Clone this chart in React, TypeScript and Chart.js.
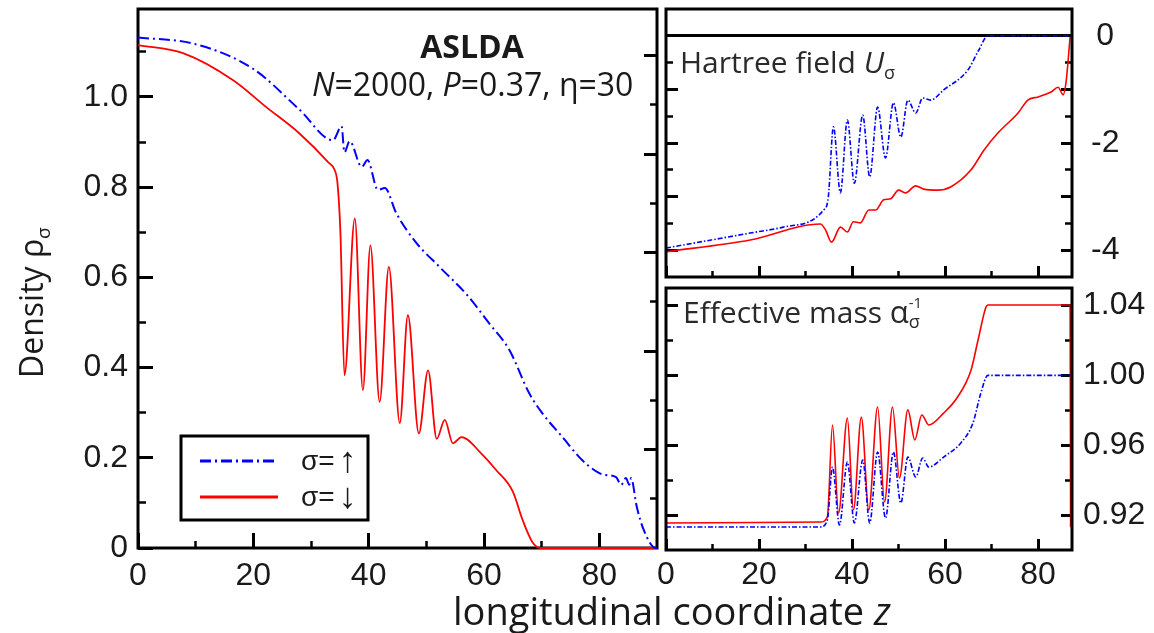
import React, { useEffect, useRef } from "react";
import { Chart, registerables } from "chart.js";

Chart.register(...registerables);

// ---------------- page & fonts ----------------
const PAGE_W = 1154;
const PAGE_H = 633;
const TICK_FONT = "'Liberation Sans', Arial, sans-serif";
const TEXT_FONT = "'Open Sans', 'DejaVu Sans', sans-serif";
const BLUE = "#0000ff";
const RED = "#ff0000";
const INK = "#1a1a1a";

// ---------------- series labels ----------------
const upLabel = "σ=↑";
const downLabel = "σ=↓";

// ---------------- left panel: density rho_sigma(z) ----------------
const densityUpZ = [0, 10, 20, 28, 33.8, 35.3, 35.8, 36.7, 38.8, 39.8, 41.6, 42.8, 44.8, 48.3, 52.3, 57, 60.9, 64.4, 67.8, 70.1, 73.6, 77, 80, 81.1, 82.9, 83.8, 84.6, 85.2, 85.5, 86.5, 87.7, 89.8, 90];
const densityUpRho = [1.132, 1.117, 1.062, 0.972, 0.904, 0.935, 0.877, 0.902, 0.845, 0.86, 0.794, 0.798, 0.742, 0.676, 0.623, 0.562, 0.498, 0.439, 0.344, 0.299, 0.246, 0.195, 0.166, 0.162, 0.157, 0.14, 0.155, 0.14, 0.155, 0.091, 0.04, 0, 0];
const densityDownZ = [0, 7.8, 16.5, 22.3, 28, 33, 34.1, 34.6, 35.1, 35.8, 37.6, 39.0, 40.3, 41.9, 43.5, 45.4, 46.8, 48.7, 50.3, 51.8, 53.2, 54.6, 56.1, 59.5, 62.1, 65, 66.7, 68.4, 69.8, 90];
const densityDownRho = [1.115, 1.097, 1.037, 0.977, 0.919, 0.855, 0.838, 0.808, 0.7, 0.383, 0.731, 0.35, 0.671, 0.324, 0.623, 0.277, 0.516, 0.254, 0.394, 0.242, 0.284, 0.232, 0.246, 0.21, 0.173, 0.125, 0.062, 0.013, 0, 0];

// ---------------- upper right: Hartree field U_sigma(z) ----------------
const hartreeUpZ = [0, 18.1, 25.2, 33.9, 34.9, 36.0, 37.5, 39.0, 40.5, 42.3, 43.8, 45.5, 47.2, 48.9, 50.5, 52.0, 53.7, 55.2, 56.9, 59.7, 64.9, 67.3, 69.2, 87.3];
const hartreeUpU = [-3.96, -3.68, -3.57, -3.25, -3.01, -1.7, -2.93, -1.57, -2.75, -1.48, -2.63, -1.33, -2.28, -1.25, -1.89, -1.2, -1.44, -1.16, -1.2, -1.01, -0.64, -0.26, 0, 0];
const hartreeDownZ = [0, 18.1, 33.2, 34.3, 35.6, 37.5, 39.0, 40.3, 41.8, 43.6, 45.1, 46.8, 48.3, 50.0, 51.5, 53.7, 55.4, 58.4, 61.2, 65.6, 68.4, 71.4, 75.7, 77.8, 80.0, 82.8, 84.3, 85.4, 86.0, 86.9];
const hartreeDownU = [-4.03, -3.81, -3.51, -3.62, -3.85, -3.57, -3.66, -3.47, -3.49, -3.25, -3.25, -3.06, -3.04, -2.88, -2.93, -2.8, -2.86, -2.88, -2.82, -2.5, -2.13, -1.81, -1.44, -1.2, -1.14, -1.05, -0.96, -1.1, -0.88, -0.02];

// ---------------- lower right: effective mass alpha_sigma^-1(z) ----------------
const massUpZ = [0, 33.2, 34.7, 35.8, 37.3, 39.0, 40.5, 42.3, 43.8, 45.5, 47.2, 48.9, 50.5, 52.0, 53.7, 55.2, 56.5, 59.7, 63.4, 66.0, 67.7, 69.2, 87.3];
const massUpA = [0.9132, 0.9132, 0.9172, 0.9475, 0.9143, 0.9504, 0.9155, 0.9515, 0.9155, 0.9561, 0.9183, 0.9561, 0.9269, 0.9532, 0.9418, 0.9527, 0.9475, 0.9532, 0.9613, 0.9727, 0.9899, 1.0, 1.0];
const massDownZ = [0, 33.2, 34.7, 35.8, 37.1, 39.0, 40.3, 42.0, 43.6, 45.5, 47.0, 48.7, 50.2, 52.0, 53.5, 55.0, 56.5, 59.7, 62.7, 65.6, 67.1, 68.8, 69.2, 86.9, 87.0];
const massDownA = [0.9155, 0.916, 0.919, 0.9716, 0.9212, 0.9756, 0.9229, 0.9761, 0.9229, 0.9819, 0.9275, 0.9819, 0.9412, 0.9802, 0.963, 0.9773, 0.9716, 0.9784, 0.9876, 1.0031, 1.0202, 1.0391, 1.0403, 1.0403, 0.913];

// ---------------- ticks ----------------
const densityTicks = [0, 0.2, 0.4, 0.6, 0.8, 1.0];
const densityTickLabels = ["0", "0.2", "0.4", "0.6", "0.8", "1.0"];
const densityMinorTicks = [0.1, 0.3, 0.5, 0.7, 0.9, 1.1];
const zTicks = [0, 20, 40, 60, 80];
const zTickLabels = ["0", "20", "40", "60", "80"];
const zMinorTicks = [10, 30, 50, 70];
const frameTicks = [2, 4, 6, 8, 10];
const frameMinorTicks = [1, 3, 5, 7, 9];
const hartreeTicks = [0, -1, -2, -3, -4];
const hartreeTickLabels = ["0", "", "-2", "", "-4"];
const hartreeMinorTicks = [-0.5, -1.5, -2.5, -3.5];
const massTicks = [0.92, 0.96, 1.0, 1.04];
const massTickLabels = ["0.92", "0.96", "1.00", "1.04"];
const massMinorTicks = [0.94, 0.98, 1.02];

// ---------------- helpers ----------------
function series(zs: number[], vs: number[]) {
  return zs.map((z, i) => ({ x: z, y: vs[i] }));
}

type AxisCfg = {
  axis: "x" | "y";
  position: string;
  min: number;
  max: number;
  weight: number;
  size: number;
  ticks: number[];
  labels?: string[];
  len: number;
  width?: number;
  padding?: number;
  crossAlign?: string;
  z?: number;
  zeroLine?: boolean;
};

function axis(cfg: AxisCfg) {
  const horiz = cfg.axis === "x";
  return {
    type: "linear",
    axis: cfg.axis,
    position: cfg.position,
    min: cfg.min,
    max: cfg.max,
    bounds: "data",
    weight: cfg.weight,
    z: cfg.z ?? 0,
    afterBuildTicks: (s: any) => {
      s.ticks = cfg.ticks.map((v) => ({ value: v }));
    },
    afterFit: (s: any) => {
      if (horiz) s.height = cfg.size;
      else s.width = cfg.size;
      s.paddingLeft = 0;
      s.paddingRight = 0;
      s.paddingTop = 0;
      s.paddingBottom = 0;
    },
    border: { display: false },
    grid: {
      display: true,
      drawOnChartArea: !!cfg.zeroLine,
      drawTicks: true,
      tickLength: -cfg.len,
      tickWidth: cfg.width ?? 3,
      tickColor: "#000",
      lineWidth: 3,
      color: (c: any) => (cfg.zeroLine && c.tick && c.tick.value === 0 ? "#000" : "rgba(0,0,0,0)"),
    },
    ticks: {
      display: !!cfg.labels,
      autoSkip: false,
      maxRotation: 0,
      minRotation: 0,
      padding: cfg.padding ?? 0,
      crossAlign: cfg.crossAlign ?? "near",
      color: INK,
      font: { family: TICK_FONT, size: 32 },
      callback: (_v: any, i: number) => (cfg.labels ? cfg.labels[i] : ""),
    },
  };
}

type Run = { t: string; f: string; dy?: number; noAdvance?: boolean };
function drawRuns(ctx: CanvasRenderingContext2D, x: number, y: number, runs: Run[], align: "left" | "center" = "left") {
  let total = 0;
  runs.forEach((r) => {
    ctx.font = r.f;
    if (!r.noAdvance) total += ctx.measureText(r.t).width;
  });
  let cx = align === "center" ? x - total / 2 : x;
  ctx.textAlign = "left";
  ctx.textBaseline = "alphabetic";
  runs.forEach((r) => {
    ctx.font = r.f;
    ctx.fillText(r.t, cx, y + (r.dy || 0));
    if (!r.noAdvance) cx += ctx.measureText(r.t).width;
  });
}

function strokeFrame(chart: any) {
  const { ctx, chartArea: a } = chart;
  ctx.save();
  ctx.strokeStyle = "#000";
  ctx.lineWidth = 3;
  ctx.strokeRect(a.left, a.top, a.right - a.left, a.bottom - a.top);
  ctx.restore();
}

// frame over the data (right panels)
const framePlugin = {
  id: "frame",
  afterDraw(chart: any) {
    strokeFrame(chart);
  },
};

// frame under the data (left panel: the red curve lies on the bottom axis)
const frameBehindPlugin = {
  id: "frameBehind",
  beforeDatasetsDraw(chart: any) {
    strokeFrame(chart);
  },
};

const f = (size: number, style = "") => `${style} ${size}px ${TEXT_FONT}`.trim();

const leftTextPlugin = {
  id: "leftText",
  afterDraw(chart: any) {
    const ctx: CanvasRenderingContext2D = chart.ctx;
    ctx.save();
    ctx.fillStyle = INK;
    drawRuns(ctx, 472, 58, [{ t: "ASLDA", f: f(32, "bold") }], "center");
    drawRuns(ctx, 312, 96, [
      { t: "N", f: f(32, "italic") },
      { t: "=2000, ", f: f(32) },
      { t: "P", f: f(32, "italic") },
      { t: "=0.37, η=30", f: f(32) },
    ]);
    // y-axis title
    ctx.save();
    ctx.translate(43, 378);
    ctx.rotate(-Math.PI / 2);
    drawRuns(ctx, 0, 0, [
      { t: "Density ρ", f: f(32) },
      { t: "σ", f: f(19), dy: 7 },
    ]);
    ctx.restore();
    // shared x-axis title
    drawRuns(ctx, 453, 625, [
      { t: "longitudinal coordinate ", f: f(38) },
      { t: "z", f: f(38, "italic") },
    ]);
    // legend box
    ctx.lineWidth = 3;
    ctx.strokeStyle = "#000";
    ctx.strokeRect(181, 436, 187, 84);
    const rows = [461, 497];
    chart.data.datasets.forEach((ds: any, i: number) => {
      const y = rows[i];
      ctx.save();
      ctx.strokeStyle = ds.borderColor;
      ctx.lineWidth = 3;
      ctx.setLineDash(ds.borderDash || []);
      ctx.beginPath();
      ctx.moveTo(200, y);
      ctx.lineTo(278, y);
      ctx.stroke();
      ctx.restore();
      ctx.fillStyle = INK;
      ctx.textAlign = "left";
      ctx.textBaseline = "middle";
      const label: string = ds.label;
      const head = label.slice(0, -1);
      const arrow = label.slice(-1);
      ctx.font = `28px ${TICK_FONT}`;
      ctx.fillText(head, 301, y + 1);
      const w = ctx.measureText(head).width;
      ctx.font = `36px ${TICK_FONT}`;
      ctx.fillText(arrow, 301 + w + 4, y + 1);
    });
    ctx.restore();
  },
};

const hartreeTextPlugin = {
  id: "hartreeText",
  afterDraw(chart: any) {
    const ctx: CanvasRenderingContext2D = chart.ctx;
    ctx.save();
    ctx.fillStyle = "#2a2a2a";
    drawRuns(ctx, 680, 73, [
      { t: "Hartree field ", f: f(30) },
      { t: "U", f: f(30, "italic") },
      { t: "σ", f: f(18), dy: 6 },
    ]);
    ctx.restore();
  },
};

const massTextPlugin = {
  id: "massText",
  afterDraw(chart: any) {
    const ctx: CanvasRenderingContext2D = chart.ctx;
    ctx.save();
    ctx.fillStyle = "#2a2a2a";
    drawRuns(ctx, 683, 323, [
      { t: "Effective mass ", f: f(30) },
      { t: "α", f: f(31) },
      { t: "-1", f: f(15), dy: -15, noAdvance: true },
      { t: "σ", f: f(18), dy: 5 },
    ]);
    ctx.restore();
  },
};

function baseOptions(padding: any, scales: any) {
  return {
    responsive: false,
    maintainAspectRatio: false,
    animation: false,
    devicePixelRatio: 1,
    events: [],
    layout: { padding },
    plugins: { legend: { display: false }, tooltip: { enabled: false }, title: { display: false } },
    elements: { point: { radius: 0 }, line: { cubicInterpolationMode: "monotone" } },
    scales,
  };
}

export default function App() {
  const leftRef = useRef<HTMLCanvasElement>(null);
  const topRef = useRef<HTMLCanvasElement>(null);
  const botRef = useRef<HTMLCanvasElement>(null);

  useEffect(() => {
    const charts: Chart[] = [];

    // ----- left: density -----
    charts.push(
      new Chart(leftRef.current as HTMLCanvasElement, {
        type: "line",
        data: {
          datasets: [
            {
              label: upLabel,
              data: series(densityUpZ, densityUpRho),
              borderColor: BLUE,
              borderWidth: 2,
              borderDash: [11, 4, 2, 4],
              pointRadius: 0,
              fill: false,
              clip: false,
              xAxisID: "x",
              yAxisID: "y",
            },
            {
              label: downLabel,
              data: series(densityDownZ, densityDownRho),
              borderColor: RED,
              borderWidth: 1.8,
              pointRadius: 0,
              fill: false,
              clip: false,
              xAxisID: "x",
              yAxisID: "y",
            },
          ],
        } as any,
        options: baseOptions(
          { left: 0, top: 9, right: PAGE_W - 657, bottom: 0 },
          {
            x: axis({ axis: "x", position: "bottom", min: 0, max: 90, weight: 1, size: PAGE_H - 548, ticks: zTicks, labels: zTickLabels, len: 15, padding: 24 }),
            xm: axis({ axis: "x", position: "bottom", min: 0, max: 90, weight: 0, size: 0, ticks: zMinorTicks, len: 7, width: 2.5 }),
            y: axis({ axis: "y", position: "left", min: 0, max: 1.195, weight: 1, size: 138, ticks: densityTicks, labels: densityTickLabels, len: 15, padding: 25 }),
            ym: axis({ axis: "y", position: "left", min: 0, max: 1.195, weight: 0, size: 0, ticks: densityMinorTicks, len: 8, width: 2.5 }),
            yf: axis({ axis: "y", position: "right", min: 0, max: 10.95, weight: 0, size: 0, ticks: frameTicks, len: 13 }),
            yfm: axis({ axis: "y", position: "right", min: 0, max: 10.95, weight: 1, size: 0, ticks: frameMinorTicks, len: 7, width: 2.5 }),
          }
        ) as any,
        plugins: [frameBehindPlugin, leftTextPlugin],
      })
    );

    // ----- upper right: Hartree field -----
    charts.push(
      new Chart(topRef.current as HTMLCanvasElement, {
        type: "line",
        data: {
          datasets: [
            {
              label: upLabel,
              data: series(hartreeUpZ, hartreeUpU),
              borderColor: BLUE,
              borderWidth: 1.6,
              borderDash: [5, 2, 1.5, 2],
              pointRadius: 0,
              fill: false,
              xAxisID: "x",
              yAxisID: "y",
            },
            {
              label: downLabel,
              data: series(hartreeDownZ, hartreeDownU),
              borderColor: RED,
              borderWidth: 1.6,
              pointRadius: 0,
              fill: false,
              xAxisID: "x",
              yAxisID: "y",
            },
          ],
        } as any,
        options: baseOptions(
          { left: 666, top: 9, right: 0, bottom: 0 },
          {
            x: axis({ axis: "x", position: "bottom", min: 0, max: 87.3, weight: 1, size: PAGE_H - 277, ticks: zTicks, len: 11 }),
            xm: axis({ axis: "x", position: "bottom", min: 0, max: 87.3, weight: 0, size: 0, ticks: zMinorTicks, len: 6, width: 2.5 }),
            yl: axis({ axis: "y", position: "left", min: -4.5, max: 0.5, weight: 1, size: 0, ticks: hartreeTicks, len: 12 }),
            ylm: axis({ axis: "y", position: "left", min: -4.5, max: 0.5, weight: 0, size: 0, ticks: hartreeMinorTicks, len: 7, width: 2.5 }),
            y: axis({ axis: "y", position: "right", min: -4.5, max: 0.5, weight: 1, size: PAGE_W - 1072, ticks: hartreeTicks, labels: hartreeTickLabels, len: 11, padding: 30, crossAlign: "center", z: 1, zeroLine: true }),
            yrm: axis({ axis: "y", position: "right", min: -4.5, max: 0.5, weight: 0, size: 0, ticks: hartreeMinorTicks, len: 7, width: 2.5 }),
          }
        ) as any,
        plugins: [framePlugin, hartreeTextPlugin],
      })
    );

    // ----- lower right: effective mass -----
    charts.push(
      new Chart(botRef.current as HTMLCanvasElement, {
        type: "line",
        data: {
          datasets: [
            {
              label: upLabel,
              data: series(massUpZ, massUpA),
              borderColor: BLUE,
              borderWidth: 1.6,
              borderDash: [5, 2, 1.5, 2],
              pointRadius: 0,
              fill: false,
              xAxisID: "x",
              yAxisID: "y",
            },
            {
              label: downLabel,
              data: series(massDownZ, massDownA),
              borderColor: RED,
              borderWidth: 1.6,
              pointRadius: 0,
              fill: false,
              xAxisID: "x",
              yAxisID: "y",
            },
          ],
        } as any,
        options: baseOptions(
          { left: 666, top: 288, right: 0, bottom: 0 },
          {
            x: axis({ axis: "x", position: "bottom", min: 0, max: 87.3, weight: 1, size: PAGE_H - 550, ticks: zTicks, labels: zTickLabels, len: 11, padding: 17 }),
            xm: axis({ axis: "x", position: "bottom", min: 0, max: 87.3, weight: 0, size: 0, ticks: zMinorTicks, len: 6, width: 2.5 }),
            yl: axis({ axis: "y", position: "left", min: 0.9, max: 1.05, weight: 1, size: 0, ticks: massTicks, len: 12 }),
            ylm: axis({ axis: "y", position: "left", min: 0.9, max: 1.05, weight: 0, size: 0, ticks: massMinorTicks, len: 7, width: 2.5 }),
            y: axis({ axis: "y", position: "right", min: 0.9, max: 1.05, weight: 1, size: PAGE_W - 1072, ticks: massTicks, labels: massTickLabels, len: 11, padding: 22 }),
            yrm: axis({ axis: "y", position: "right", min: 0.9, max: 1.05, weight: 0, size: 0, ticks: massMinorTicks, len: 7, width: 2.5 }),
          }
        ) as any,
        plugins: [framePlugin, massTextPlugin],
      })
    );

    return () => {
      charts.forEach((c) => c.destroy());
    };
  }, []);

  const canvasStyle: React.CSSProperties = { position: "absolute", left: 0, top: 0, width: PAGE_W, height: PAGE_H, display: "block" };
  return (
    <div style={{ position: "fixed", left: 0, top: 0, width: PAGE_W, height: PAGE_H, background: "#fff", overflow: "hidden" }}>
      <canvas ref={leftRef} width={PAGE_W} height={PAGE_H} style={canvasStyle} />
      <canvas ref={topRef} width={PAGE_W} height={PAGE_H} style={canvasStyle} />
      <canvas ref={botRef} width={PAGE_W} height={PAGE_H} style={canvasStyle} />
    </div>
  );
}
